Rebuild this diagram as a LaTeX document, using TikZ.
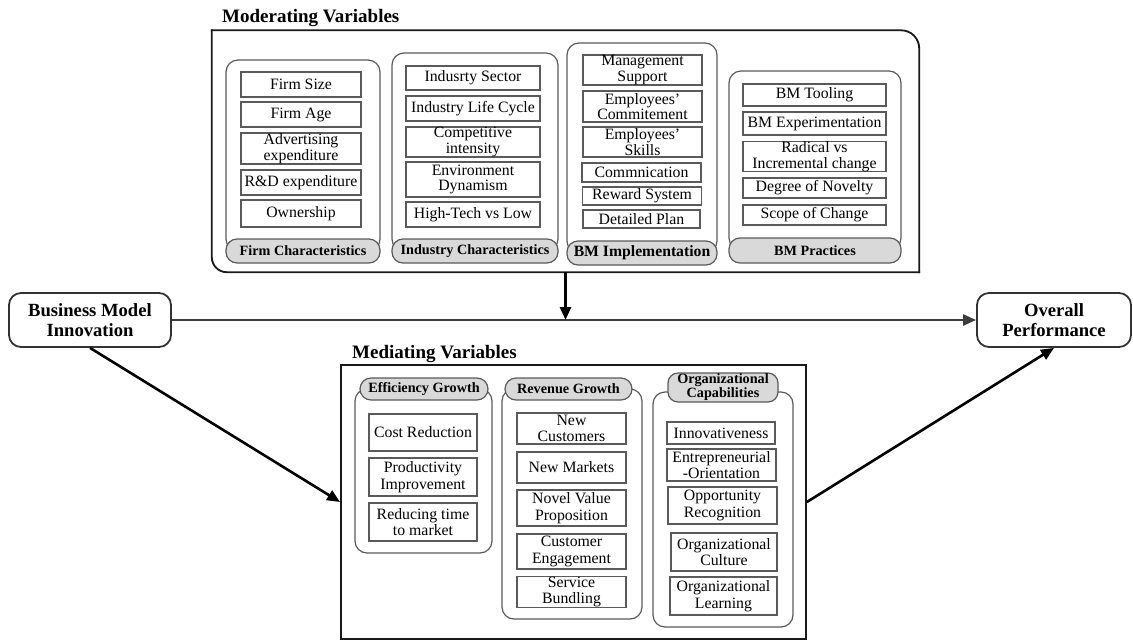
\documentclass[tikz,border=0pt]{standalone}
\usepackage{fontspec}
\setmainfont{Liberation Serif}
\usetikzlibrary{arrows.meta}

\definecolor{itemgray}{HTML}{5A5A5A}
\definecolor{pillgray}{HTML}{D9D9D9}
\definecolor{linegray}{HTML}{3C3C3C}

\tikzset{
  item/.style={draw=itemgray, line width=1.1pt, fill=white, align=center,
    inner sep=0pt, font=\fontsize{15.8}{15.5}\selectfont},
  mitem/.style={item, font=\fontsize{15.8}{16.5}\selectfont},
  colframe/.style={draw=itemgray, line width=1.2pt, rounded corners=12pt, inner sep=0pt},
  pill/.style={draw=itemgray, line width=1.2pt, fill=pillgray, rounded corners=11pt,
    inner sep=0pt, align=center, font=\fontsize{14.2}{14}\selectfont\bfseries},
  mainbox/.style={draw=black!80, line width=1.8pt, rounded corners=12pt, align=center,
    inner sep=0pt, font=\fontsize{18.6}{20}\selectfont\bfseries},
  heading/.style={anchor=base west, inner sep=0pt, font=\fontsize{19}{20}\selectfont\bfseries},
  frame/.style={draw=black!90, line width=1.8pt},
  link/.style={line width=2.6pt, -{Triangle[length=13pt,width=11pt]}},
}

\begin{document}
\begin{tikzpicture}[x=1pt,y=-1pt]
\useasboundingbox (0,0) rectangle (1133,641);

% ---------- moderating variables ----------
\node[heading] (modtitle) at (222,22) {Moderating Variables};
\node[minimum width=707pt, minimum height=241.5pt, inner sep=0pt] (mod) at (565.5,151.25) {};
\draw[frame, rounded corners=18pt, line cap=rect] (mod.south east) -- (mod.north east) -- (mod.north west);
\draw[frame, rounded corners=15pt, line cap=rect] (mod.north west) -- (mod.south west) -- (mod.south east);

% firm characteristics
\node[colframe, minimum width=154pt, minimum height=191pt] (cfirm) at (303,155.5) {};
\node[item, minimum width=120pt, minimum height=25pt] (f1) at (301,84.5) {Firm Size};
\node[item, minimum width=120pt, minimum height=25pt] (f2) at (301,114.5) {Firm Age};
\node[item, minimum width=120pt, minimum height=31pt] (f3) at (301,148.5) {Advertising\\expenditure};
\node[item, minimum width=120pt, minimum height=25pt] (f4) at (301,182.5) {R\&D expenditure};
\node[item, minimum width=120pt, minimum height=27pt] (f5) at (301,213.5) {Ownership};
\node[pill, minimum width=154pt, minimum height=24pt] (pfirm) at (303,251) {Firm Characteristics};

% industry characteristics
\node[colframe, minimum width=166pt, minimum height=198pt] (cind) at (475,152) {};
\node[item, minimum width=134pt, minimum height=24pt] (i1) at (473,78) {Indusrty Sector};
\node[item, minimum width=134pt, minimum height=25pt] (i2) at (473,108.5) {Industry Life Cycle};
\node[item, minimum width=134pt, minimum height=30pt] (i3) at (473,142) {Competitive\\intensity};
\node[item, minimum width=134pt, minimum height=35pt] (i4) at (473,179.5) {Environment\\Dynamism};
\node[item, minimum width=134pt, minimum height=25pt] (i5) at (473,214.5) {High-Tech vs Low};
\node[pill, minimum width=166pt, minimum height=24pt] (pind) at (475,251) {Industry Characteristics};

% business model implementation
\node[colframe, minimum width=150pt, minimum height=210pt] (cimp) at (642,148) {};
\node[item, minimum width=119pt, minimum height=30pt] (m1) at (642.5,70) {Management\\Support};
\node[item, minimum width=119pt, minimum height=31pt] (m2) at (642.5,106.5) {Employees'\\Commitement};
\node[item, minimum width=119pt, minimum height=30pt] (m3) at (642.5,142) {Employees'\\Skills};
\node[item, minimum width=119pt, minimum height=19pt] (m4) at (641.5,172.5) {Commnication};
\node[item, minimum width=119pt, minimum height=18pt] (m5) at (642,196) {Reward System};
\node[item, minimum width=117pt, minimum height=18pt] (m6) at (641.5,219) {Detailed Plan};
\node[pill, minimum width=150pt, minimum height=24pt, font=\fontsize{15.7}{16}\selectfont\bfseries] (pimp) at (642,253) {BM Implementation};

% business model practices
\node[colframe, minimum width=172pt, minimum height=179pt] (cprac) at (815,160.5) {};
\node[item, minimum width=143pt, minimum height=22pt] (p1) at (814.5,95) {BM Tooling};
\node[item, minimum width=143pt, minimum height=23pt] (p2) at (814.5,123.5) {BM Experimentation};
\node[item, minimum width=143pt, minimum height=29pt] (p3) at (814.5,156.5) {Radical vs\\Incremental change};
\node[item, minimum width=143pt, minimum height=20pt] (p4) at (814.5,188) {Degree of Novelty};
\node[item, minimum width=143pt, minimum height=20pt] (p5) at (814.5,215) {Scope of Change};
\node[pill, minimum width=172pt, minimum height=25pt] (pprac) at (815,250.5) {BM Practices};

% ---------- end points ----------
\node[mainbox, minimum width=162pt, minimum height=54pt] (bmi) at (90,320) {Business Model\\Innovation};
\node[mainbox, minimum width=154pt, minimum height=54pt] (op) at (1054,320) {Overall\\Performance};

% ---------- mediating variables ----------
\node[heading] (medtitle) at (352,358) {Mediating Variables};
\node[frame, minimum width=465pt, minimum height=274pt, inner sep=0pt] (med) at (573.5,502) {};

% efficiency growth
\node[colframe, minimum width=137pt, minimum height=164pt] (ceff) at (423.5,471) {};
\node[mitem, minimum width=108pt, minimum height=37pt] (e1) at (423,432.5) {Cost Reduction};
\node[mitem, minimum width=108pt, minimum height=38pt] (e2) at (423,477) {Productivity\\Improvement};
\node[mitem, minimum width=108pt, minimum height=38pt] (e3) at (423,522) {Reducing time\\to market};
\node[pill, minimum width=128pt, minimum height=22pt] (peff) at (424,389) {Efficiency Growth};

% revenue growth
\node[colframe, minimum width=140pt, minimum height=230pt] (crev) at (572,504) {};
\node[mitem, minimum width=109pt, minimum height=31pt] (r1) at (571.5,428.5) {New\\Customers};
\node[mitem, minimum width=109pt, minimum height=31pt] (r2) at (571.5,467.5) {New Markets};
\node[mitem, minimum width=109pt, minimum height=36pt] (r3) at (571.5,508) {Novel Value\\Proposition};
\node[mitem, minimum width=109pt, minimum height=35pt] (r4) at (571.5,551.5) {Customer\\Engagement};
\node[mitem, minimum width=109pt, minimum height=30pt] (r5) at (571.5,592) {Service\\Bundling};
\node[pill, minimum width=127pt, minimum height=22pt] (prev) at (568.5,389) {Revenue Growth};

% organizational capabilities
\node[colframe, minimum width=140pt, minimum height=235pt] (corg) at (723,509.5) {};
\node[mitem, minimum width=108pt, minimum height=22pt] (o1) at (721,433) {Innovativeness};
\node[mitem, minimum width=109pt, minimum height=32pt] (o2) at (721.5,465) {Entrepreneurial\\-Orientation};
\node[mitem, minimum width=109pt, minimum height=37pt] (o3) at (722.5,505.5) {Opportunity\\Recognition};
\node[mitem, minimum width=106pt, minimum height=38pt] (o4) at (724,552) {Organizational\\Culture};
\node[mitem, minimum width=107pt, minimum height=38pt] (o5) at (723.5,596) {Organizational\\Learning};
\node[pill, minimum width=110pt, minimum height=29pt, rounded corners=10pt] (porg) at (723,387.5) {Organizational\\Capabilities};

% ---------- connectors ----------
\draw[link, draw=linegray, fill=linegray] (bmi.east) -- (op.west);
\coordinate (hit) at (mod.south |- bmi.east);
\draw[link] (mod.south) -- (hit);
\draw[link] (bmi.south) -- (med.west);
\draw[link] (med.east) -- (op.south);
\end{tikzpicture}
\end{document}
